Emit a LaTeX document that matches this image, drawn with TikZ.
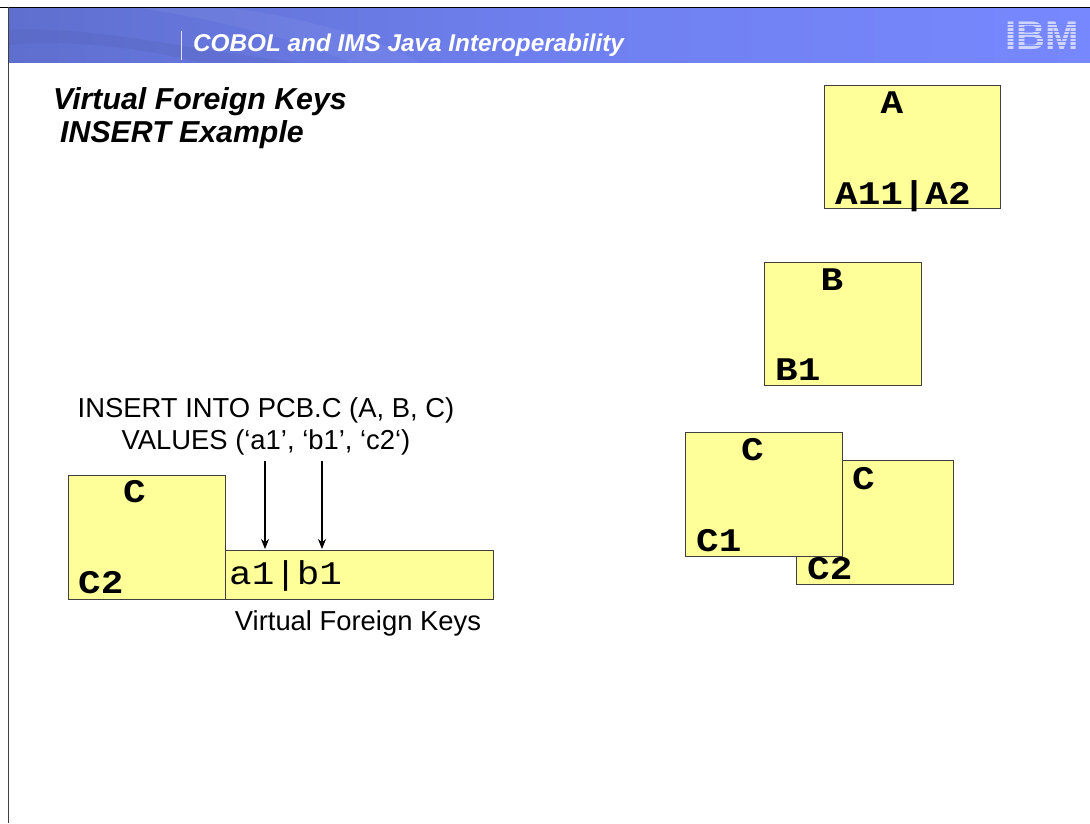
\documentclass[tikz,border=0pt]{standalone}
\usepackage{fontspec}
\setmainfont{Liberation Sans}
\newfontfamily\boxfont[FakeStretch=1.14]{Liberation Mono}
\usetikzlibrary{arrows.meta}
\definecolor{boxyellow}{HTML}{FFFF99}
\definecolor{boxedge}{HTML}{404040}
\definecolor{bandleft}{HTML}{5F6FCF}
\definecolor{bandright}{HTML}{7788FF}
\tikzset{
table box/.style={draw=boxedge,fill=boxyellow,line width=1pt,inner sep=0pt,anchor=north west,minimum width=157pt,minimum height=123.5pt},
box label/.style={font=\fontsize{33}{33}\boxfont\bfseries,inner sep=0pt,anchor=base west},
key label/.style={font=\fontsize{33}{33}\boxfont,inner sep=0pt,anchor=base west},
body text/.style={font=\fontsize{27.4}{32}\selectfont,inner sep=0pt,align=center},
title text/.style={font=\fontsize{30.3}{30}\bfseries\itshape,inner sep=0pt,anchor=base west},
freccia/.style={-{Stealth[length=10pt,width=8pt]},line width=1.1pt}}

\begin{document}
\begin{tikzpicture}[x=1pt,y=-1pt]

\useasboundingbox (0,0) rectangle (1090,823);
\fill[white] (0,0) rectangle (1090,823);

% header band
\shade[left color=bandleft,right color=bandright,middle color=bandleft!35!bandright] (8,8) rectangle (1090,62.5);
\fill[bandleft!80!black,opacity=.18] (8,30) .. controls (90,25) and (190,50) .. (300,62.5) -- (200,62.5) .. controls (130,45) and (60,40) .. (8,45) -- cycle;
\fill[white,opacity=.05] (140,8) .. controls (220,20) and (300,40) .. (350,62.5) -- (420,62.5) .. controls (370,35) and (290,15) .. (230,8) -- cycle;
\draw[black,line width=1pt] (0,7.5) -- (1090,7.5);
\draw[boxedge,line width=1pt] (8.5,7) -- (8.5,823);
\draw[white!80!bandleft,line width=.8pt] (181,31) -- (181,60);
\node[font=\fontsize{24.3}{24}\bfseries\itshape,text=white,inner sep=0pt,anchor=base west] (header) at (193,51) {COBOL and IMS Java Interoperability};

% logo
\node[font=\fontsize{40}{40}\bfseries,text=white!65!bandright,inner sep=0pt,anchor=base west] (logo) at (1005,49.5) {IBM};
\foreach \y in {23.5,27,30.5,34,37.5,41,44.5} {
  \fill[bandright] (1003,\y) rectangle (1083,\y+1.1);
}

% title
\node[title text] (title1) at (53,109) {Virtual Foreign Keys};
\node[title text] (title2) at (60,142) {INSERT Example};

% table A
\node[table box,minimum width=176pt] (A) at (824,84.5) {};
\node[box label] (Aname) at (880.5,113) {A};
\node[box label] (Akeys) at (835,204) {A11|A2};

% table B
\node[table box] (B) at (764,261.5) {};
\node[box label] (Bname) at (820.5,290) {B};
\node[box label] (Bkey) at (775,380) {B1};

% table C, two segments
\node[table box] (C2back) at (796,460) {};
\node[box label] (C2name) at (852,489) {C};
\node[box label] (C2key) at (807,579) {C2};
\node[table box] (C1) at (685,432) {};
\node[box label] (C1name) at (741,460) {C};
\node[box label] (C1key) at (696,551) {C1};

% insert statement
\node[body text] (stmt) at (266,426) {INSERT INTO PCB.C (A, B, C)\\VALUES (‘a1', ‘b1', ‘c2‘)};

% segment with its keys
\node[table box,minimum width=268pt,minimum height=49pt] (keys) at (225,549.5) {};
\node[table box] (C) at (67.5,475) {};
\node[box label] (Cname) at (123,502) {C};
\node[box label] (Ckey) at (78,593) {C2};
\node[key label] (keytext) at (229,584) {a1|b1};
\node[body text] (vfk) at (358,623) {Virtual Foreign Keys};

\coordinate (fromA) at (265,461);
\coordinate (toA) at (265,549);
\coordinate (fromB) at (322,461);
\coordinate (toB) at (322,549);
\path[freccia] (fromA) edge (toA);
\path[freccia] (fromB) edge (toB);

\end{tikzpicture}
\end{document}
